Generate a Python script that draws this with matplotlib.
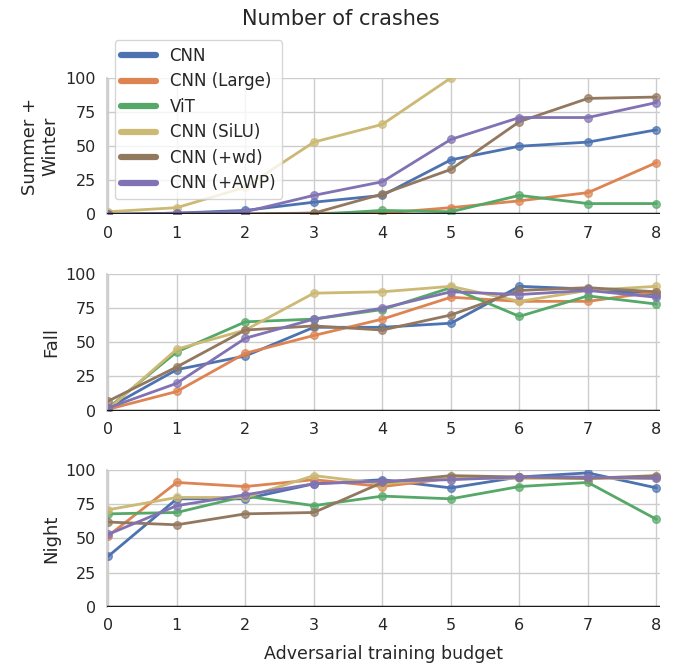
import numpy as np
import matplotlib
matplotlib.use("Agg")
import matplotlib.pyplot as plt
import seaborn as sns

budget = [0, 1, 2, 3, 4, 5, 6, 7, 8]
models = ["CNN", "CNN (Large)", "ViT", "CNN (SiLU)", "CNN (+wd)", "CNN (+AWP)"]
panels = ["Summer +\nWinter", "Fall", "Night"]

nan = np.nan
# crashes per model, one list per panel
summer_winter = [
    [0, 1, 3, 9, 14, 40, 50, 53, 62],
    [0, 0, 0, 1, 1, 5, 10, 16, 38],
    [0, 0, 0, 0, 3, 2, 14, 8, 8],
    [2, 5, 20, 53, 66, 100, nan, nan, nan],
    [0, 0, 0.5, 1, 15, 33, 68, 85, 86],
    [0, 1, 2, 14, 24, 55, 71, 71, 82],
]
fall = [
    [2, 30, 40, 61, 61, 64, 91, 89, 85],
    [1, 14, 42, 55, 67, 83, 80, 80, 87],
    [2, 43, 65, 67, 74, 90, 69, 84, 78],
    [1, 45, 59, 86, 87, 91, 80, 88, 91],
    [7, 32, 59, 62, 59, 70, 88, 90, 87],
    [2, 20, 53, 67, 75, 87, 85, 88, 83],
]
night = [
    [37, 79, 79, 90, 93, 87, 95, 98, 87],
    [52, 91, 88, 93, 88, 94, 95, 94, 95],
    [68, 69, 81, 74, 81, 79, 88, 91, 64],
    [71, 80, 80, 96, 90, 94, 94, 94, 94],
    [62, 60, 68, 69, 91, 96, 95, 94, 96],
    [53, 74, 82, 90, 92, 93, 95, 95, 94],
]
data = [summer_winter, fall, night]

sns.set_theme(style="whitegrid", palette="deep")
deep = sns.color_palette("deep")
colors = [deep[0], deep[1], deep[2], deep[8], deep[5], deep[4]]

fig, axes = plt.subplots(3, 1, figsize=(6.81, 6.66), dpi=100)
fig.subplots_adjust(left=0.157, right=0.969, top=0.883, bottom=0.089, hspace=0.436)

for ax, name, series in zip(axes, panels, data):
    for i, vals in enumerate(series):
        ax.plot(budget, vals, color=colors[i], lw=2, label=models[i])
        ax.plot(budget, vals, 'o', color=colors[i], ms=5.5, alpha=0.7)
    ax.axhline(0, color='k', lw=2.5, zorder=5)
    ax.set_xlim(-0.02, 8.05)
    ax.set_ylim(0, 100)
    ax.set_yticks([0, 25, 50, 75, 100])
    ax.set_xticks(budget)
    ax.set_ylabel(name, fontsize=13)
    ax.tick_params(labelsize=11.5, pad=2)
    for s in ["top", "right", "bottom"]:
        ax.spines[s].set_visible(False)
    ax.spines["left"].set_color("#cccccc")

axes[-1].set_xlabel("Adversarial training budget", fontsize=12.5, labelpad=9)
fig.suptitle("Number of crashes", fontsize=15, y=0.987)

handles, labels = axes[0].get_legend_handles_labels()
leg = fig.legend(handles, labels, loc="upper left", bbox_to_anchor=(0.156, 0.952),
                 fontsize=12, handlelength=2.1, borderpad=0.4, labelspacing=0.45)
for h in leg.legend_handles:
    h.set_linewidth(4.5)

plt.savefig("out.png", dpi=100)
